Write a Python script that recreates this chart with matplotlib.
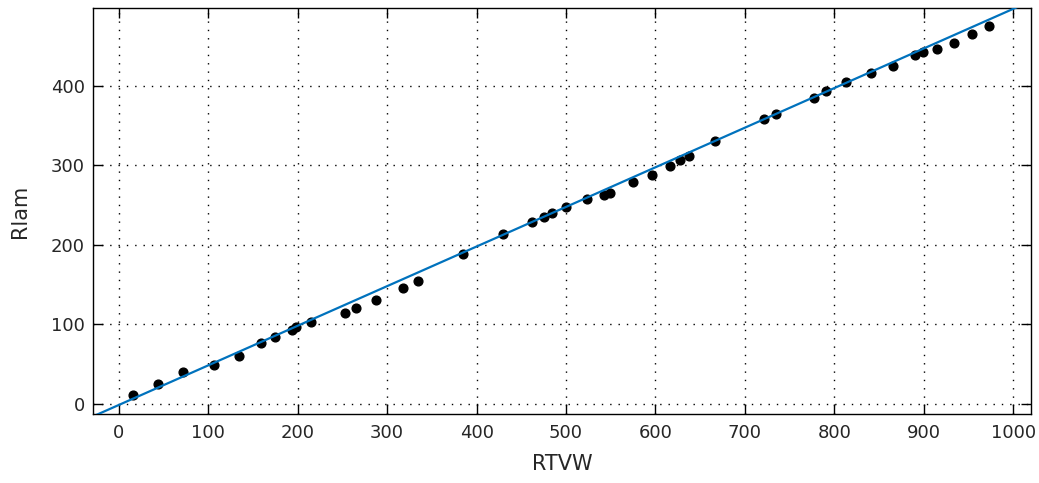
import matplotlib.pyplot as plt
import numpy as np

# datos
rtvw = [16, 44, 72, 106, 134, 159, 175, 193, 198, 215, 253, 265, 288, 318, 335,
        385, 429, 462, 475, 484, 500, 524, 542, 549, 575, 596, 616, 628, 638, 667,
        721, 735, 777, 791, 813, 841, 866, 890, 899, 915, 934, 954, 973]
rlam = [11, 25, 40, 49, 60, 76, 84, 93, 96, 103, 114, 121, 130, 146, 155,
        189, 214, 229, 235, 240, 247, 257, 263, 265, 279, 288, 299, 307, 312, 331,
        358, 365, 385, 393, 405, 416, 425, 439, 443, 447, 454, 465, 475]

# recta de ajuste
pendiente = 0.4985
intercepto = -1.6
x_ajuste = [-40, 1040]

fig = plt.figure(figsize=(10.39, 4.83), dpi=100)
ax = fig.add_axes([0.0895, 0.1429, 0.9028, 0.8405])

ax.plot(rtvw, rlam, 'o', color='black', markersize=6.3, zorder=3)
xa = np.array(x_ajuste)
ax.plot(xa, pendiente * xa + intercepto, '-', color='#0072BD', linewidth=1.6, zorder=4)

ax.set_xlim(-29, 1020)
ax.set_ylim(-13, 498)
ax.set_xticks(range(0, 1001, 100))
ax.set_yticks(range(0, 401, 100))
ax.set_xlabel('RTVW', fontsize=15, color='#262626', va='center')
ax.set_ylabel('Rlam', fontsize=15, color='#262626', va='center')
ax.xaxis.set_label_coords(0.5, -0.123)
ax.yaxis.set_label_coords(-0.078, 0.5)
ax.tick_params(direction='in', top=True, right=True, length=7, width=1,
               labelsize=13, labelcolor='#262626')
ax.tick_params(axis='x', pad=7)
ax.tick_params(axis='y', pad=6)
ax.grid(True, color='black', linestyle=(0, (1, 5)), linewidth=1)
for s in ax.spines.values():
    s.set_linewidth(1)

plt.savefig('out.png', dpi=100)
